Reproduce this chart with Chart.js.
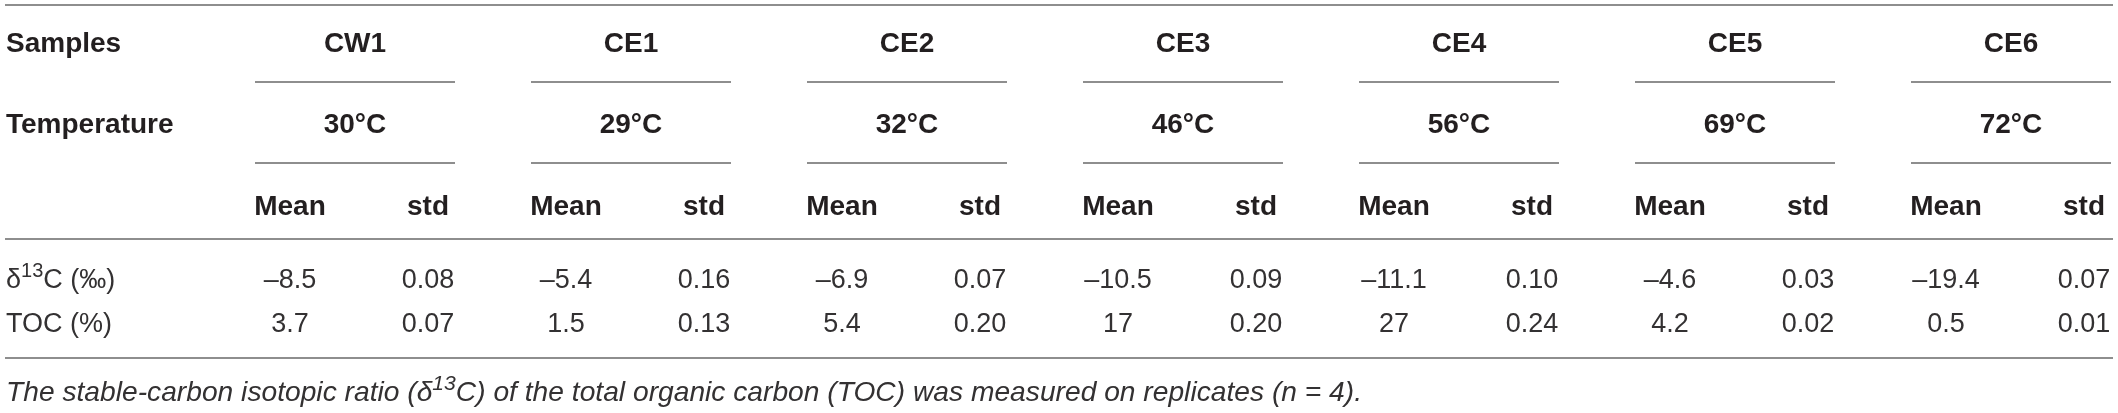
<!DOCTYPE html>
<html>
<head>
<meta charset="utf-8">
<script src="https://cdn.jsdelivr.net/npm/chart.js@4.4.0/dist/chart.umd.min.js"></script>
<style>
html, body { margin: 0; padding: 0; background: #fff; }
#wrap { width: 2118px; height: 413px; }
</style>
</head>
<body>
<div id="wrap"><canvas id="tableChart"></canvas></div>
<script>
// table content
var samples = ['CW1', 'CE1', 'CE2', 'CE3', 'CE4', 'CE5', 'CE6'];
var temperatures = ['30°C', '29°C', '32°C', '46°C', '56°C', '69°C', '72°C'];
var subHeaders = ['Mean', 'std'];
var headLabels = ['Samples', 'Temperature'];
var d13cMean = [-8.5, -5.4, -6.9, -10.5, -11.1, -4.6, -19.4];
var d13cStd = [0.08, 0.16, 0.07, 0.09, 0.10, 0.03, 0.07];
var tocMean = [3.7, 1.5, 5.4, 17, 27, 4.2, 0.5];
var tocStd = [0.07, 0.13, 0.20, 0.20, 0.24, 0.02, 0.01];
var rowLabels = [
    [{t: 'δ'}, {t: '13', sup: true}, {t: 'C (‰)'}],
    [{t: 'TOC (%)'}]
];
var caption = [
    {t: 'The stable-carbon isotopic ratio (δ'}, {t: '13', sup: true},
    {t: 'C) of the total organic carbon (TOC) was measured on replicates (n = 4).'}
];

// layout (pixel units of the x / y scales)
var firstMean = 290, pitch = 276, stdShift = 138, groupMid = 65;
var groupLeft = -35, groupRight = 165;
var labelX = 6, leftEdge = 5, rightEdge = 2113, captionEnd = 1362;
var rowY = {sample: 42, temp: 123, sub: 205, d13c: 278, toc: 322, caption: 401};
var ruleY = {top: 5, sample: 82, temp: 163, head: 239, bottom: 358};

var ink = '#231f20';
var lightInk = '#333132';
var ruleColor = '#8e8e8e';
var family = '"Liberation Sans", Arial, Helvetica, sans-serif';
var boldFont = {size: 28, weight: 'bold', style: 'normal', color: ink};
var bodyFont = {size: 27, weight: 'normal', style: 'normal', color: lightInk};

function meanX(i) { return firstMean + pitch * i; }
function fmtMean(v) { return (v < 0 ? '–' : '') + String(Math.abs(v)); }
function fmtStd(v) { return v.toFixed(2); }

function cells(labels, xs, y, font, align) {
    return {
        data: xs.map(function (x) { return {x: x, y: y}; }),
        cellText: labels,
        cellFont: font,
        cellAlign: align || 'center',
        pointRadius: 0,
        showLine: false
    };
}

var idx = samples.map(function (s, i) { return i; });
var datasets = [
    cells(headLabels, [labelX, labelX], 0, boldFont, 'left'),
    cells(samples, idx.map(function (i) { return meanX(i) + groupMid; }), rowY.sample, boldFont),
    cells(temperatures, idx.map(function (i) { return meanX(i) + groupMid; }), rowY.temp, boldFont),
    cells(idx.map(function () { return subHeaders[0]; }), idx.map(meanX), rowY.sub, boldFont),
    cells(idx.map(function () { return subHeaders[1]; }), idx.map(function (i) { return meanX(i) + stdShift; }), rowY.sub, boldFont),
    cells(rowLabels, [labelX, labelX], 0, bodyFont, 'left'),
    cells(d13cMean.map(fmtMean), idx.map(meanX), rowY.d13c, bodyFont),
    cells(d13cStd.map(fmtStd), idx.map(function (i) { return meanX(i) + stdShift; }), rowY.d13c, bodyFont),
    cells(tocMean.map(fmtMean), idx.map(meanX), rowY.toc, bodyFont),
    cells(tocStd.map(fmtStd), idx.map(function (i) { return meanX(i) + stdShift; }), rowY.toc, bodyFont)
];
// the two left label columns sit on different rows
datasets[0].data[0].y = rowY.sample; datasets[0].data[1].y = rowY.temp;
datasets[5].data[0].y = rowY.d13c; datasets[5].data[1].y = rowY.toc;

function fontStr(f, size) {
    return f.style + ' ' + f.weight + ' ' + (size || f.size) + 'px ' + family;
}

// draws text made of plain / superscript parts, returns width
function drawRich(ctx, parts, x, baseY, f, align, measureOnly) {
    var supSize = Math.round(f.size * 0.74);
    var w = 0;
    parts.forEach(function (p) {
        ctx.font = fontStr(f, p.sup ? supSize : f.size);
        w += ctx.measureText(p.t).width;
    });
    if (measureOnly) return w;
    var cx = align === 'center' ? x - w / 2 : (align === 'right' ? x - w : x);
    ctx.textAlign = 'left';
    ctx.textBaseline = 'alphabetic';
    ctx.fillStyle = f.color || ink;
    parts.forEach(function (p) {
        ctx.font = fontStr(f, p.sup ? supSize : f.size);
        ctx.fillText(p.t, cx, p.sup ? baseY - f.size * 0.4 : baseY);
        cx += ctx.measureText(p.t).width;
    });
    return w;
}

var tablePlugin = {
    id: 'tableText',
    afterDatasetsDraw: function (chart) {
        var ctx = chart.ctx;
        var sx = chart.scales.x, sy = chart.scales.y;
        ctx.save();
        ctx.strokeStyle = ruleColor;
        ctx.lineWidth = 2;
        function hline(x0, x1, y) {
            var py = Math.round(sy.getPixelForValue(y));
            ctx.beginPath();
            ctx.moveTo(sx.getPixelForValue(x0), py);
            ctx.lineTo(sx.getPixelForValue(x1), py);
            ctx.stroke();
        }
        hline(leftEdge, rightEdge, ruleY.top);
        hline(leftEdge, rightEdge, ruleY.head);
        hline(leftEdge, rightEdge, ruleY.bottom);
        samples.forEach(function (s, i) {
            hline(meanX(i) + groupLeft, meanX(i) + groupRight, ruleY.sample);
            hline(meanX(i) + groupLeft, meanX(i) + groupRight, ruleY.temp);
        });

        chart.data.datasets.forEach(function (ds, k) {
            var meta = chart.getDatasetMeta(k);
            meta.data.forEach(function (pt, j) {
                var txt = ds.cellText[j];
                var parts = Array.isArray(txt) ? txt : [{t: txt}];
                drawRich(ctx, parts, pt.x, pt.y + ds.cellFont.size * 0.36, ds.cellFont, ds.cellAlign);
            });
        });

        // caption, squeezed to the original width
        var capFont = {size: 28, weight: 'normal', style: 'italic', color: lightInk};
        var x0 = sx.getPixelForValue(labelX);
        var target = sx.getPixelForValue(captionEnd) - x0;
        var w = drawRich(ctx, caption, 0, 0, capFont, 'left', true);
        ctx.translate(x0, sy.getPixelForValue(rowY.caption));
        ctx.scale(target / w, 1);
        drawRich(ctx, caption, 0, 0, capFont, 'left');
        ctx.restore();
    }
};

var chart = new Chart(document.getElementById('tableChart'), {
    type: 'scatter',
    data: {datasets: datasets},
    options: {
        responsive: true,
        maintainAspectRatio: false,
        animation: false,
        events: [],
        layout: {padding: 0},
        plugins: {legend: {display: false}, tooltip: {enabled: false}},
        scales: {
            x: {type: 'linear', display: false, min: 0, max: 2118},
            y: {type: 'linear', display: false, min: 0, max: 413, reverse: true}
        }
    },
    plugins: [tablePlugin]
});
</script>
</body>
</html>
